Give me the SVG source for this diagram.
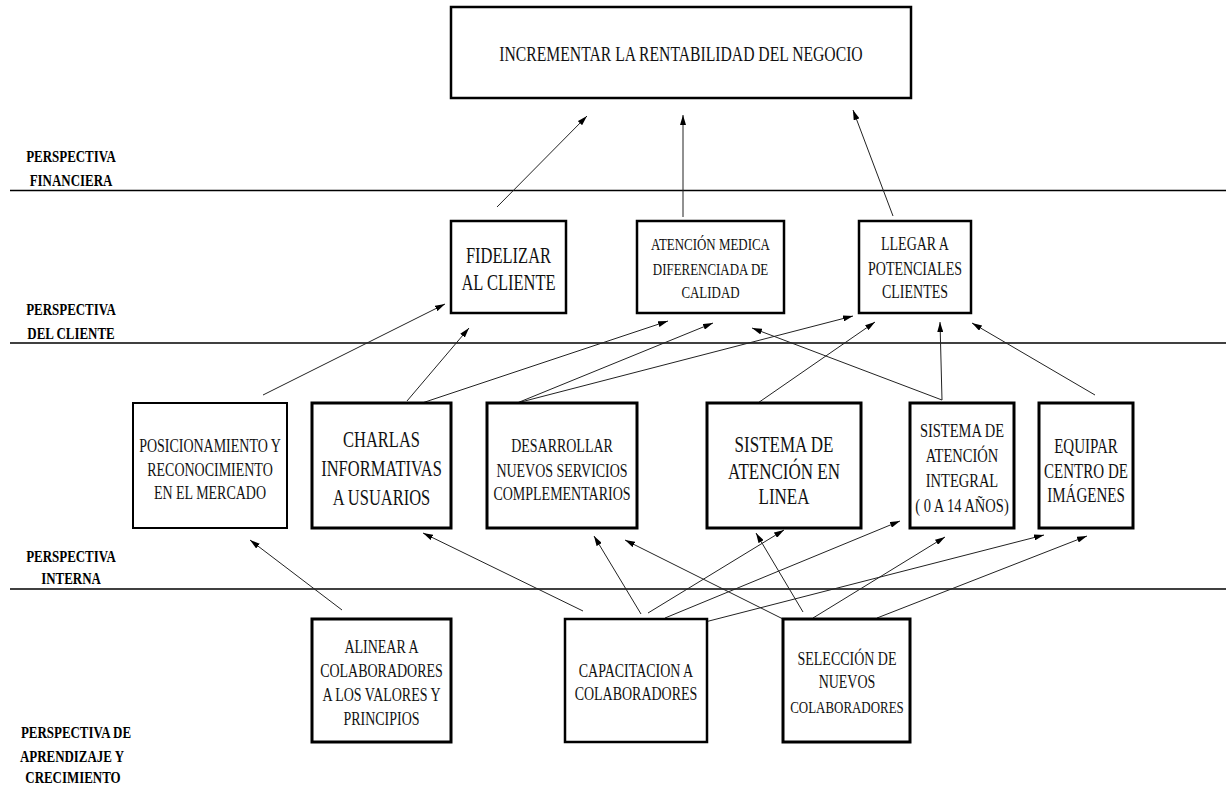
<svg xmlns="http://www.w3.org/2000/svg" width="1226" height="785" viewBox="0 0 1226 785">
<style>
  .box{fill:#fff;stroke:#000;stroke-width:2.5}
  .t{font-family:"Liberation Serif","Times New Roman",serif;fill:#111;text-anchor:middle}
  .p{font-family:"Liberation Serif","Times New Roman",serif;font-weight:bold;font-size:17.5px;fill:#000;text-anchor:middle}
  .sep{stroke:#000;stroke-width:1.6}
  .c{stroke:#222;stroke-width:1;fill:none;marker-end:url(#ah)}
</style>
<defs>
  <marker id="ah" viewBox="0 0 10 6" refX="10" refY="3" markerWidth="10" markerHeight="6" markerUnits="userSpaceOnUse" orient="auto">
    <path d="M0,0 L10,3 L0,6 z" fill="#000"/>
  </marker>
</defs>
<rect width="1226" height="785" fill="#fff"/>

<g id="separators">
  <line class="sep" x1="10" y1="190.5" x2="1226" y2="190.5"/>
  <line class="sep" x1="10" y1="343" x2="1226" y2="343"/>
  <line class="sep" x1="10" y1="589" x2="1226" y2="589"/>
</g>

<g id="labels">
  <text class="p" transform="matrix(0.74 0 0 1 18.46 0)"><tspan x="71" y="162">PERSPECTIVA</tspan><tspan x="71" y="186">FINANCIERA</tspan></text>
  <text class="p" transform="matrix(0.74 0 0 1 18.46 0)"><tspan x="71" y="315">PERSPECTIVA</tspan><tspan x="71" y="339">DEL CLIENTE</tspan></text>
  <text class="p" transform="matrix(0.74 0 0 1 18.46 0)"><tspan x="71" y="562">PERSPECTIVA</tspan><tspan x="71" y="584">INTERNA</tspan></text>
  <text class="p" transform="matrix(0.74 0 0 1 19.76 0)" x="76" y="738">PERSPECTIVA DE</text>
  <text class="p" transform="matrix(0.74 0 0 1 18.72 0)" x="72" y="762">APRENDIZAJE Y</text>
  <text class="p" transform="matrix(0.74 0 0 1 18.98 0)" x="73" y="783">CRECIMIENTO</text>
</g>

<g id="connectors">
  <line class="c" x1="497" y1="207" x2="587" y2="116"/>
  <line class="c" x1="683" y1="217" x2="683" y2="115"/>
  <line class="c" x1="893" y1="216" x2="853" y2="110"/>
  <line class="c" x1="263" y1="395" x2="445" y2="304"/>
  <line class="c" x1="407" y1="401" x2="469" y2="328"/>
  <line class="c" x1="422" y1="403" x2="668" y2="321"/>
  <line class="c" x1="517" y1="403" x2="713" y2="323"/>
  <line class="c" x1="517" y1="403" x2="853" y2="316"/>
  <line class="c" x1="755" y1="405" x2="875" y2="322"/>
  <line class="c" x1="942" y1="400" x2="752" y2="328"/>
  <line class="c" x1="942" y1="400" x2="940" y2="322"/>
  <line class="c" x1="1095" y1="395" x2="972" y2="323"/>
  <line class="c" x1="342" y1="610" x2="250" y2="540"/>
  <line class="c" x1="583" y1="611" x2="423" y2="533"/>
  <line class="c" x1="641" y1="614" x2="594" y2="536"/>
  <line class="c" x1="648" y1="613" x2="784" y2="530"/>
  <line class="c" x1="665" y1="618" x2="900" y2="521"/>
  <line class="c" x1="705" y1="622" x2="1044" y2="535"/>
  <line class="c" x1="791" y1="623" x2="625" y2="540"/>
  <line class="c" x1="803" y1="612" x2="756" y2="533"/>
  <line class="c" x1="813" y1="618" x2="945" y2="537"/>
  <line class="c" x1="877" y1="618" x2="1087" y2="536"/>
</g>

<g id="n-rentabilidad">
  <rect class="box" x="451" y="7" width="460" height="91"/>
  <text class="t" font-size="21.2" transform="matrix(0.74 0 0 1 177.06 0)" x="681" y="61">INCREMENTAR LA RENTABILIDAD DEL NEGOCIO</text>
</g>

<g id="n-fidelizar">
  <rect class="box" x="451" y="221" width="115" height="92"/>
  <text class="t" font-size="22.3" transform="matrix(0.74 0 0 1 132.21 0)"><tspan x="508.5" y="263">FIDELIZAR</tspan><tspan x="508.5" y="290">AL CLIENTE</tspan></text>
</g>
<g id="n-atencion">
  <rect class="box" x="637" y="221" width="147" height="92"/>
  <text class="t" font-size="17.5" transform="matrix(0.74 0 0 1 184.73 0)"><tspan x="710.5" y="250">ATENCIÓN MEDICA</tspan><tspan x="710.5" y="275">DIFERENCIADA DE</tspan><tspan x="710.5" y="298">CALIDAD</tspan></text>
</g>
<g id="n-llegar">
  <rect class="box" x="859" y="221" width="112" height="92"/>
  <text class="t" font-size="18.9" transform="matrix(0.74 0 0 1 237.9 0)"><tspan x="915" y="250">LLEGAR A</tspan><tspan x="915" y="275">POTENCIALES</tspan><tspan x="915" y="298">CLIENTES</tspan></text>
</g>

<g id="n-posicionamiento">
  <rect class="box" x="133" y="403" width="154" height="125" style="stroke-width:2"/>
  <text class="t" font-size="18.9" transform="matrix(0.74 0 0 1 54.6 0)"><tspan x="210" y="452">POSICIONAMIENTO Y</tspan><tspan x="210" y="476">RECONOCIMIENTO</tspan><tspan x="210" y="499">EN EL MERCADO</tspan></text>
</g>
<g id="n-charlas">
  <rect class="box" x="312" y="403" width="139" height="125" style="stroke-width:3"/>
  <text class="t" font-size="22.3" transform="matrix(0.74 0 0 1 99.19 0)"><tspan x="381.5" y="447">CHARLAS</tspan><tspan x="381.5" y="476">INFORMATIVAS</tspan><tspan x="381.5" y="505">A USUARIOS</tspan></text>
</g>
<g id="n-desarrollar">
  <rect class="box" x="487" y="403" width="150" height="125" style="stroke-width:3"/>
  <text class="t" font-size="18.9" transform="matrix(0.74 0 0 1 146.12 0)"><tspan x="562" y="452">DESARROLLAR</tspan><tspan x="562" y="477">NUEVOS SERVICIOS</tspan><tspan x="562" y="500">COMPLEMENTARIOS</tspan></text>
</g>
<g id="n-linea">
  <rect class="box" x="707" y="403" width="154" height="125" style="stroke-width:3"/>
  <text class="t" font-size="23" transform="matrix(0.74 0 0 1 203.84 0)"><tspan x="784" y="452">SISTEMA DE</tspan><tspan x="784" y="479">ATENCIÓN EN</tspan><tspan x="784" y="504">LINEA</tspan></text>
</g>
<g id="n-integral">
  <rect class="box" x="910" y="403" width="104" height="125" style="stroke-width:3"/>
  <text class="t" font-size="19.6" transform="matrix(0.74 0 0 1 250.12 0)"><tspan x="962" y="437">SISTEMA DE</tspan><tspan x="962" y="462">ATENCIÓN</tspan><tspan x="962" y="487">INTEGRAL</tspan><tspan x="962" y="512">( 0 A 14 AÑOS)</tspan></text>
</g>
<g id="n-equipar">
  <rect class="box" x="1039" y="403" width="94" height="125" style="stroke-width:3"/>
  <text class="t" font-size="20.3" transform="matrix(0.74 0 0 1 282.36 0)"><tspan x="1086" y="453">EQUIPAR</tspan><tspan x="1086" y="478">CENTRO DE</tspan><tspan x="1086" y="502">IMÁGENES</tspan></text>
</g>

<g id="n-alinear">
  <rect class="box" x="312" y="619" width="139" height="123" style="stroke-width:3"/>
  <text class="t" font-size="18.9" transform="matrix(0.74 0 0 1 99.19 0)"><tspan x="381.5" y="653">ALINEAR A</tspan><tspan x="381.5" y="677">COLABORADORES</tspan><tspan x="381.5" y="701">A LOS VALORES Y</tspan><tspan x="381.5" y="725">PRINCIPIOS</tspan></text>
</g>
<g id="n-capacitacion">
  <rect class="box" x="565" y="619" width="142" height="123"/>
  <text class="t" font-size="18.9" transform="matrix(0.74 0 0 1 165.36 0)"><tspan x="636" y="677">CAPACITACION A</tspan><tspan x="636" y="700">COLABORADORES</tspan></text>
</g>
<g id="n-seleccion">
  <rect class="box" x="783" y="619" width="127" height="123" style="stroke-width:3"/>
  <text class="t" transform="matrix(0.74 0 0 1 220.22 0)"><tspan x="847" y="665" font-size="18.9">SELECCIÓN DE</tspan><tspan x="847" y="688" font-size="18.9">NUEVOS</tspan><tspan x="847" y="713" font-size="17.5">COLABORADORES</tspan></text>
</g>
</svg>
